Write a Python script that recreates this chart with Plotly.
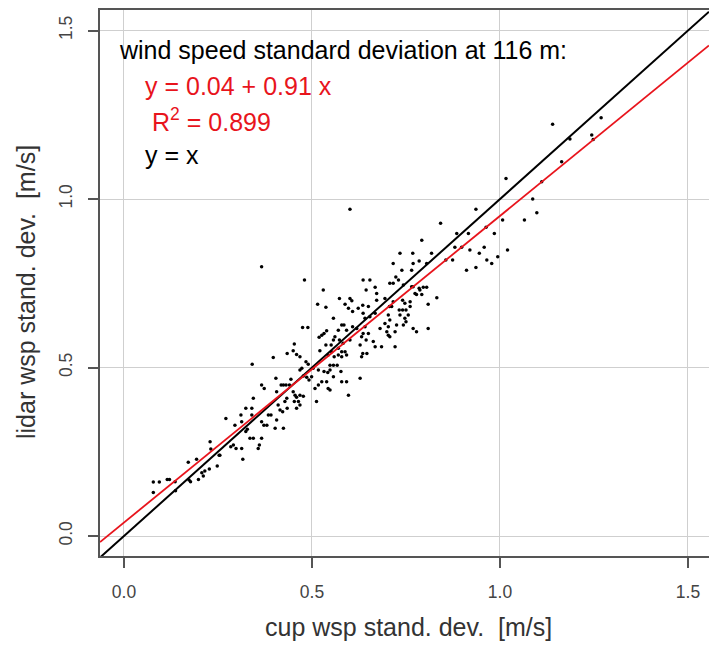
import plotly.graph_objects as go

# ---------------- data ----------------
cup_sd = [
    0.078, 0.094, 0.115, 0.121, 0.078, 0.136, 0.137, 0.171, 0.173, 0.177,
    0.193, 0.198, 0.207, 0.211, 0.215, 0.227, 0.229, 0.231, 0.248, 0.253,
    0.255, 0.271, 0.284, 0.291, 0.298, 0.313, 0.316, 0.295, 0.311, 0.324,
    0.340, 0.313, 0.324, 0.328, 0.335, 0.344, 0.357, 0.360, 0.366, 0.366,
    0.372, 0.380, 0.340, 0.384,
    0.475, 0.489, 0.453, 0.397, 0.434, 0.450, 0.459, 0.468, 0.484, 0.490,
    0.519, 0.526, 0.532, 0.539, 0.521, 0.537, 0.543, 0.341, 0.473, 0.468,
    0.503, 0.517, 0.532, 0.542, 0.477, 0.486, 0.492, 0.499, 0.508, 0.517,
    0.526, 0.539, 0.543, 0.512, 0.366, 0.373, 0.404, 0.406, 0.418, 0.424,
    0.431, 0.440, 0.444, 0.450, 0.455, 0.459, 0.468, 0.477, 0.453, 0.464,
    0.468, 0.459, 0.433, 0.428, 0.434, 0.410, 0.415, 0.422, 0.406, 0.402,
    0.424, 0.391, 0.344,
    0.480, 0.530, 0.515, 0.537, 0.573, 0.588, 0.601, 0.606, 0.597, 0.608,
    0.623, 0.557, 0.579, 0.585, 0.592, 0.608, 0.619, 0.570, 0.561, 0.557,
    0.573, 0.583, 0.601, 0.551, 0.570, 0.579, 0.588, 0.592, 0.579, 0.570,
    0.559, 0.552, 0.628, 0.557, 0.548, 0.567, 0.548, 0.557, 0.577, 0.579,
    0.592, 0.597, 0.628, 0.548,
    0.792, 0.734, 0.768, 0.716, 0.769, 0.785, 0.805, 0.739, 0.765, 0.723,
    0.636, 0.654, 0.668, 0.644, 0.707, 0.716, 0.730, 0.743, 0.765, 0.769,
    0.785, 0.796, 0.805, 0.787, 0.774, 0.778, 0.792, 0.672, 0.694, 0.672,
    0.716, 0.741, 0.747, 0.761, 0.706, 0.712, 0.761, 0.809, 0.635, 0.650,
    0.732, 0.741, 0.750, 0.703, 0.756, 0.636, 0.668, 0.734, 0.641, 0.654,
    0.707, 0.747, 0.694, 0.750, 0.725, 0.743, 0.641, 0.703, 0.681, 0.699,
    0.703, 0.707, 0.721, 0.769, 0.778, 0.809, 0.636, 0.650, 0.632, 0.644,
    0.663, 0.668, 0.685, 0.721, 0.635, 0.646, 0.632,
    1.016, 0.936, 0.842, 1.007, 1.065, 0.885, 0.916, 0.963, 0.985, 0.880,
    0.898, 0.920, 0.958, 1.020, 0.818, 0.856, 0.874, 0.945, 0.965, 0.978,
    0.994, 0.911, 0.936, 0.832,
    1.140, 1.269, 1.186, 1.244, 1.248, 1.164, 1.111, 1.087, 1.098,
    0.366, 0.601,
]
lidar_sd = [
    0.160, 0.160, 0.168, 0.168, 0.129, 0.161, 0.134, 0.219, 0.166, 0.161,
    0.228, 0.168, 0.188, 0.178, 0.193, 0.199, 0.280, 0.258, 0.208, 0.240,
    0.240, 0.349, 0.265, 0.270, 0.260, 0.260, 0.228, 0.329, 0.359, 0.379,
    0.379, 0.339, 0.310, 0.317, 0.290, 0.290, 0.260, 0.270, 0.290, 0.339,
    0.329, 0.329, 0.359, 0.359,
    0.619, 0.619, 0.570, 0.530, 0.542, 0.550, 0.539, 0.532, 0.517, 0.510,
    0.590, 0.596, 0.601, 0.609, 0.550, 0.567, 0.537, 0.510, 0.498, 0.493,
    0.498, 0.493, 0.488, 0.485, 0.475, 0.471, 0.463, 0.473, 0.438, 0.448,
    0.458, 0.458, 0.438, 0.399, 0.448, 0.438, 0.468, 0.428, 0.448, 0.448,
    0.448, 0.448, 0.465, 0.428, 0.418, 0.412, 0.418, 0.415, 0.399, 0.399,
    0.389, 0.379, 0.409, 0.399, 0.379, 0.389, 0.374, 0.369, 0.344, 0.320,
    0.320, 0.359, 0.409,
    0.760, 0.730, 0.688, 0.679, 0.705, 0.688, 0.705, 0.698, 0.676, 0.666,
    0.676, 0.646, 0.626, 0.626, 0.611, 0.621, 0.616, 0.611, 0.591, 0.582,
    0.582, 0.572, 0.582, 0.567, 0.557, 0.547, 0.547, 0.537, 0.532, 0.537,
    0.532, 0.547, 0.567, 0.507, 0.507, 0.507, 0.493, 0.473, 0.488, 0.458,
    0.458, 0.418, 0.468, 0.433,
    0.878, 0.839, 0.839, 0.809, 0.809, 0.816, 0.809, 0.789, 0.789, 0.769,
    0.760, 0.760, 0.738, 0.730, 0.750, 0.750, 0.760, 0.745, 0.740, 0.740,
    0.735, 0.738, 0.738, 0.730, 0.720, 0.717, 0.717, 0.720, 0.705, 0.700,
    0.695, 0.700, 0.691, 0.695, 0.681, 0.681, 0.681, 0.688, 0.685, 0.681,
    0.671, 0.671, 0.671, 0.656, 0.656, 0.661, 0.661, 0.656, 0.646, 0.651,
    0.641, 0.646, 0.631, 0.636, 0.626, 0.626, 0.621, 0.621, 0.616, 0.606,
    0.596, 0.591, 0.606, 0.616, 0.606, 0.616, 0.601, 0.601, 0.591, 0.582,
    0.577, 0.562, 0.562, 0.562, 0.542, 0.542, 0.532,
    1.061, 0.970, 0.928, 0.938, 0.938, 0.898, 0.898, 0.916, 0.898, 0.857,
    0.857, 0.849, 0.857, 0.849, 0.839, 0.819, 0.819, 0.839, 0.819, 0.809,
    0.829, 0.789, 0.797, 0.707,
    1.222, 1.241, 1.178, 1.190, 1.177, 1.111, 1.051, 1.000, 0.959,
    0.799, 0.970,
]

fit_intercept = 0.04
fit_slope = 0.91
tick_values = [0.0, 0.5, 1.0, 1.5]
tick_labels = ["0.0", "0.5", "1.0", "1.5"]

title_text = "wind speed standard deviation at 116 m:"
fit_text = "y = 0.04 + 0.91 x"
r2_text = "R<sup>2</sup> = 0.899"
identity_text = "y = x"
x_title = "cup wsp stand. dev.  [m/s]"
y_title = "lidar wsp stand. dev.  [m/s]"

# ---------------- figure ----------------
x_range = [-0.0638, 1.5559]
y_range = [-0.0593, 1.561]
RED = "#e8141c"
FONT = "Liberation Sans, Arial, sans-serif"

fig = go.Figure()

fig.add_trace(go.Scatter(
    x=cup_sd, y=lidar_sd, mode="markers",
    marker=dict(color="black", size=3.5, line=dict(width=0)),
    hoverinfo="skip", showlegend=False,
))

# identity line y = x
fig.add_trace(go.Scatter(
    x=x_range, y=x_range, mode="lines",
    line=dict(color="black", width=2), showlegend=False, hoverinfo="skip",
))
# regression line
fig.add_trace(go.Scatter(
    x=x_range, y=[fit_intercept + fit_slope * v for v in x_range], mode="lines",
    line=dict(color=RED, width=1.8), showlegend=False, hoverinfo="skip",
))

axis_common = dict(
    tickvals=tick_values, ticktext=tick_labels,
    showgrid=True, gridcolor="#cfcfcf", gridwidth=1,
    zeroline=False,
    showline=True, linecolor="#555555", linewidth=1.5,
    ticks="outside", ticklen=10, tickwidth=1.5, tickcolor="#555555",
    tickfont=dict(family=FONT, size=17.5, color="#444444"),
)

fig.update_xaxes(range=x_range, mirror=True, ticklabelstandoff=9, **axis_common)
fig.update_yaxes(range=y_range, tickangle=-90, ticklabelstandoff=9, **axis_common)

ann = []
ann.append(dict(text=title_text, x=117, y=50, font=dict(color="black", size=25)))
ann.append(dict(text=fit_text, x=143, y=86, font=dict(color=RED, size=25)))
ann.append(dict(text=r2_text, x=150, y=120, font=dict(color=RED, size=25)))
ann.append(dict(text=identity_text, x=143, y=155, font=dict(color="black", size=25)))

annotations = []
for a in ann:
    annotations.append(dict(
        text=a["text"], xref="paper", yref="paper",
        x=(a["x"] - 100) / 609, y=1 - (a["y"] - 10) / 546,
        xanchor="left", yanchor="middle", showarrow=False,
        font=dict(family=FONT, size=a["font"]["size"], color=a["font"]["color"]),
    ))

annotations.append(dict(
    text=x_title, xref="paper", yref="paper",
    x=(408 - 100) / 609, y=1 - (627 - 10) / 546,
    xanchor="center", yanchor="middle", showarrow=False,
    font=dict(family=FONT, size=25, color="#333333"),
))
annotations.append(dict(
    text=y_title, xref="paper", yref="paper",
    x=(26 - 100) / 609, y=1 - (292 - 10) / 546,
    xanchor="center", yanchor="middle", showarrow=False, textangle=-90,
    font=dict(family=FONT, size=25, color="#333333"),
))

fig.update_layout(
    width=709, height=648,
    margin=dict(l=100, r=0, t=10, b=92),
    paper_bgcolor="white", plot_bgcolor="white",
    annotations=annotations,
    showlegend=False,
)

fig.write_html("out.html")
